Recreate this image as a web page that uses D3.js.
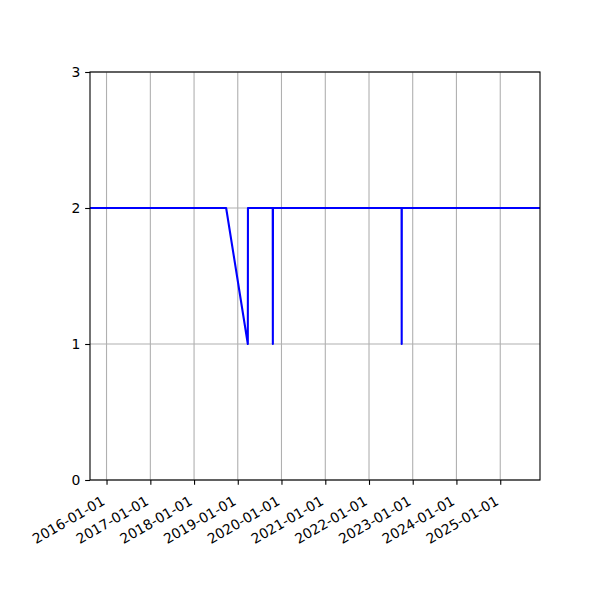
<!DOCTYPE html>
<html>
<head>
<meta charset="utf-8">
<script src="https://cdn.jsdelivr.net/npm/d3@7"></script>
<style>
  html, body { margin: 0; padding: 0; background: #fff; }
  text { font-family: "DejaVu Sans", sans-serif; }
</style>
</head>
<body>
<svg id="chart" width="600" height="600"></svg>
<script>
// Data
const dates = ["2015-08-16", "2018-09-26", "2019-03-26", "2019-03-27", "2019-10-20", "2019-10-21", "2019-10-22", "2022-09-30", "2022-10-01", "2022-10-02", "2025-11-29"];
const values = [2, 2, 1, 2, 2, 1, 2, 2, 1, 2, 2];
const xTickLabels = ["2016-01-01", "2017-01-01", "2018-01-01", "2019-01-01", "2020-01-01", "2021-01-01", "2022-01-01", "2023-01-01", "2024-01-01", "2025-01-01"];
const yTicks = [0, 1, 2, 3];

const parse = d3.utcParse("%Y-%m-%d");
const data = dates.map((d, i) => ({ date: parse(d), value: values[i] }));

const margin = { left: 90, right: 60, top: 72, bottom: 120 };
const W = 600, H = 600;
const svg = d3.select("#chart");
const FS = 13.9;
const tickLen = 4.86, pad = 4.86;

const x = d3.scaleUtc()
  .domain(d3.extent(data, d => d.date))
  .range([margin.left, W - margin.right]);
const y = d3.scaleLinear()
  .domain([0, 3])
  .range([H - margin.bottom, margin.top]);

const xTicks = xTickLabels.map(parse);

// grid
const g = svg.append("g");
g.selectAll("line.vg").data(xTicks).enter().append("line")
  .attr("x1", d => x(d)).attr("x2", d => x(d))
  .attr("y1", y(0)).attr("y2", y(3))
  .attr("stroke", "#b0b0b0").attr("stroke-width", 1.1);
g.selectAll("line.hg").data(yTicks).enter().append("line")
  .attr("x1", margin.left).attr("x2", W - margin.right)
  .attr("y1", d => y(d)).attr("y2", d => y(d))
  .attr("stroke", "#b0b0b0").attr("stroke-width", 1.1);

// line
const line = d3.line().x(d => x(d.date)).y(d => y(d.value));
svg.append("path").datum(data)
  .attr("d", line)
  .attr("fill", "none")
  .attr("stroke", "#0000ff")
  .attr("stroke-width", 2.08)
  .attr("stroke-linejoin", "round");

// frame
svg.append("rect")
  .attr("x", margin.left).attr("y", margin.top)
  .attr("width", W - margin.left - margin.right)
  .attr("height", H - margin.top - margin.bottom)
  .attr("fill", "none").attr("stroke", "#000").attr("stroke-width", 1.1);

// x axis
const xAxis = d3.axisBottom(x)
  .tickValues(xTicks)
  .tickFormat(d3.utcFormat("%Y-%m-%d"))
  .tickSize(tickLen).tickPadding(pad);
const xg = svg.append("g")
  .attr("transform", `translate(0,${H - margin.bottom})`)
  .call(xAxis);
xg.select(".domain").remove();
xg.selectAll(".tick line").attr("stroke", "#000").attr("stroke-width", 1.1);
const textH = 1.164 * FS; // ascent + descent of DejaVu Sans
const anchorY = tickLen + pad + 0.866 * textH + 3;
xg.selectAll(".tick text")
  .attr("font-size", FS)
  .attr("font-family", "DejaVu Sans")
  .attr("fill", "#000")
  .attr("text-anchor", "end")
  .attr("y", 0)
  .attr("dy", (-0.236 * FS).toFixed(2))
  .attr("transform", `translate(0.5,${anchorY.toFixed(2)}) rotate(-30)`);

// y axis
const yAxis = d3.axisLeft(y)
  .tickValues(yTicks)
  .tickFormat(d3.format("d"))
  .tickSize(tickLen).tickPadding(pad);
const yg = svg.append("g")
  .attr("transform", `translate(${margin.left},0)`)
  .call(yAxis);
yg.select(".domain").remove();
yg.selectAll(".tick line").attr("stroke", "#000").attr("stroke-width", 1.1);
yg.selectAll(".tick text")
  .attr("font-size", FS)
  .attr("font-family", "DejaVu Sans")
  .attr("fill", "#000");
</script>
</body>
</html>
